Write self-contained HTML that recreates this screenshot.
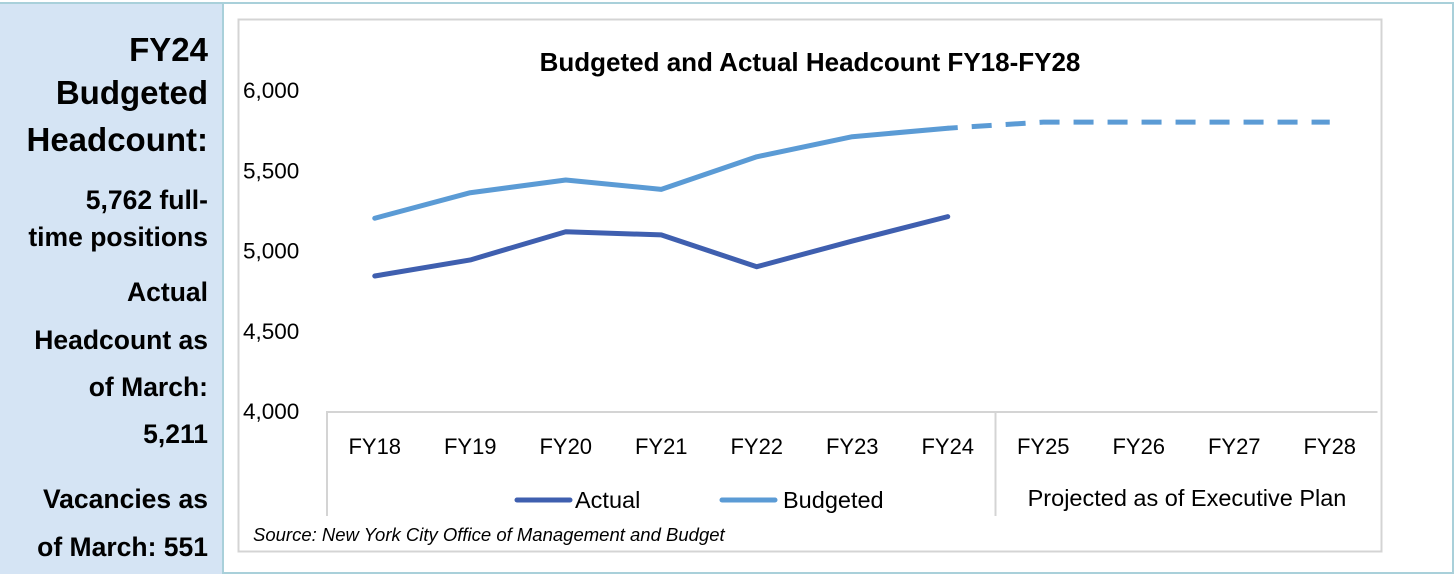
<!DOCTYPE html>
<html><head><meta charset="utf-8"><style>
body{margin:0;width:1456px;height:576px;background:#fff;overflow:hidden;font-family:"Liberation Sans",Carlito,sans-serif;position:relative}
#panel{position:absolute;left:0;top:2px;width:222px;height:570px;background:#d5e4f4;border-right:2px solid #a9d0da;border-top:2px solid #a9d0da}
.pl{position:absolute;right:14px;font-weight:bold;color:#000;white-space:nowrap;line-height:1}
.h{font-size:33px}.s{font-size:26.5px}
#outer{position:absolute;left:224px;top:2px;width:1228px;height:568px;border:2px solid #a9d0da;border-left:none}
</style></head><body>
<div id="panel">
<div class="pl h" style="top:29px">FY24</div>
<div class="pl h" style="top:72px">Budgeted</div>
<div class="pl h" style="top:119px">Headcount:</div>
<div class="pl s" style="top:183px">5,762 full-</div>
<div class="pl s" style="top:220px">time positions</div>
<div class="pl s" style="top:275px">Actual</div>
<div class="pl s" style="top:323px">Headcount as</div>
<div class="pl s" style="top:370px">of March:</div>
<div class="pl s" style="top:417px">5,211</div>
<div class="pl s" style="top:482px">Vacancies as</div>
<div class="pl s" style="top:530px">of March: 551</div>
</div>
<div id="outer"></div>
<svg id="chart" width="1456" height="576" style="position:absolute;left:0;top:0" font-family="Liberation Sans, Carlito, sans-serif">
<rect x="238.5" y="19.5" width="1143" height="532" fill="none" stroke="#d4d4d4" stroke-width="2"/>
<text x="810" y="71" text-anchor="middle" font-size="26" font-weight="bold">Budgeted and Actual Headcount FY18-FY28</text>
<g id="yaxis"></g><g id="xaxis"></g><g id="series"></g>
<line x1="517" y1="500" x2="570" y2="500" stroke="#3f5faf" stroke-width="5" stroke-linecap="round"/>
<text x="575" y="508" font-size="23.5">Actual</text>
<line x1="722" y1="500" x2="775" y2="500" stroke="#5b9bd5" stroke-width="5" stroke-linecap="round"/>
<text x="783" y="508" font-size="23.5">Budgeted</text>
<text x="1187" y="506" text-anchor="middle" font-size="23.5">Projected as of Executive Plan</text>
<text x="253" y="541" font-size="18.5" font-style="italic">Source: New York City Office of Management and Budget</text>
</svg>
<script>
const categories=["FY18","FY19","FY20","FY21","FY22","FY23","FY24","FY25","FY26","FY27","FY28"];
const actualValues=[4841,4941,5117,5097,4899,5059,5211];
const budgetedValues=[5201,5360,5439,5381,5584,5709,5762];
const projectedValues=[5762,5800,5800,5800,5800];
const yTicks=[4000,4500,5000,5500,6000];
const yTickLabels=["4,000","4,500","5,000","5,500","6,000"];
const NS="http://www.w3.org/2000/svg";
const y0=411,yh=321,vmin=4000,vmax=6000,x0=327,step=95.5;
const yS=v=>y0-(v-vmin)/(vmax-vmin)*yh;
const xS=i=>x0+step*(i+0.5);
function mk(t,a,p){const e=document.createElementNS(NS,t);for(const k in a)e.setAttribute(k,a[k]);p.appendChild(e);return e;}
const ya=document.getElementById('yaxis'),xa=document.getElementById('xaxis'),se=document.getElementById('series');
yTicks.forEach((v,i)=>{const t=mk('text',{x:243,y:yS(v)+8,'font-size':22.5},ya);t.textContent=yTickLabels[i];

});
const ax=mk('line',{x1:x0,y1:y0+1,x2:x0+step*categories.length,y2:y0+1,stroke:'#d4d4d4','stroke-width':2},xa);


[x0,x0+step*7].forEach(x=>{const l=mk('line',{x1:x,y1:y0,x2:x,y2:516,stroke:'#d4d4d4','stroke-width':2},xa);

});
categories.forEach((c,i)=>{const t=mk('text',{x:xS(i),y:454,'text-anchor':'middle','font-size':22},xa);t.textContent=c;

});
function pts(vals,off){return vals.map((v,i)=>xS(i+off)+','+yS(v)).join(' ');}
const a=mk('polyline',{points:pts(actualValues,0),fill:'none',stroke:'#3f5faf','stroke-width':5,'stroke-linejoin':'round','stroke-linecap':'round'},se);


const b=mk('polyline',{points:pts(budgetedValues,0),fill:'none',stroke:'#5b9bd5','stroke-width':5,'stroke-linejoin':'round','stroke-linecap':'round'},se);


const p=mk('polyline',{points:pts(projectedValues,6),fill:'none',stroke:'#5b9bd5','stroke-width':5,'stroke-dasharray':'20 14','stroke-dashoffset':'-24'},se);


</script>
</body></html>
